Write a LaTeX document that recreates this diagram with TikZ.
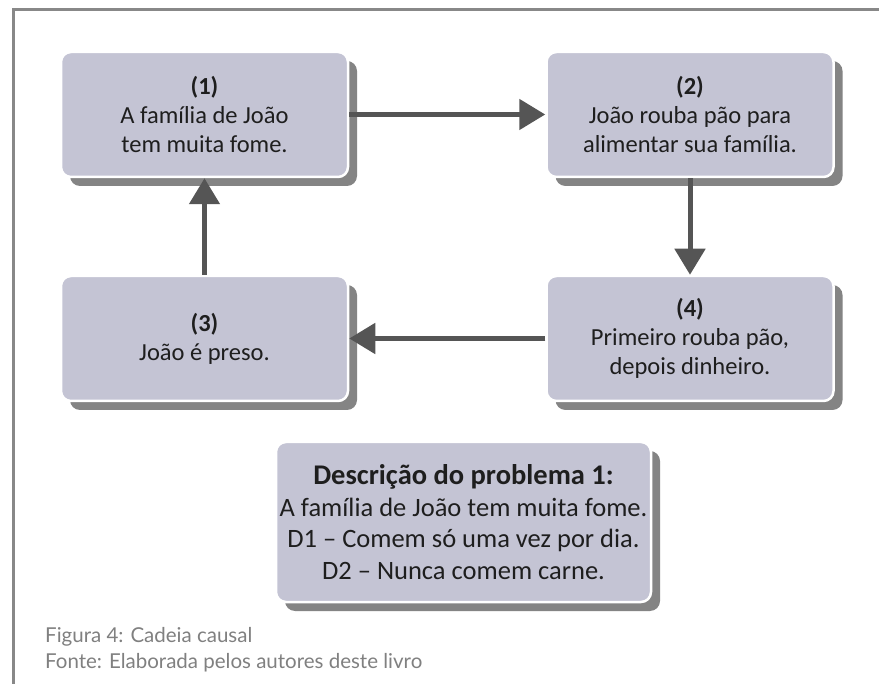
\documentclass[tikz,border=0pt]{standalone}
\usepackage{fontspec}
\setmainfont{Carlito}
\newfontfamily\capfont{Lato}
\usetikzlibrary{shadows,arrows.meta}
\definecolor{boxfill}{RGB}{196,196,212}
\definecolor{shadowcol}{RGB}{132,132,132}
\definecolor{arrowcol}{RGB}{85,85,85}
\definecolor{framecol}{RGB}{136,136,136}
\definecolor{captioncol}{RGB}{128,128,128}
\definecolor{textcol}{RGB}{30,30,30}
\tikzset{
  causebox/.style={rectangle, rounded corners=10pt, fill=boxfill, draw=white,
    line width=2.5pt, minimum width=287pt, minimum height=125pt, align=center,
    text=textcol, inner sep=0pt,
    font=\fontsize{24.5}{29}\selectfont,
    drop shadow={shadow xshift=9pt, shadow yshift=-9pt, fill=shadowcol, opacity=1}},
  flow/.style={draw=arrowcol, line width=5pt,
    -{Triangle[length=26pt,width=30pt]}},
  caption/.style={anchor=base west, inner sep=0pt, text=captioncol,
    font=\capfont\fontsize{20.5}{24}\selectfont}
}
\begin{document}
\begin{tikzpicture}[x=1pt,y=-1pt]
\useasboundingbox (0,0) rectangle (879,684);
\fill[white] (0,0) rectangle (879,684);
\draw[framecol, line width=3pt] (13,684) -- (13,9.5) -- (879,9.5);

\node[causebox] (b1) at (204.5,114.5) {\textbf{(1)}\\A família de João\\tem muita fome.};
\node[causebox] (b2) at (690,114.5) {\textbf{(2)}\\João rouba pão para\\alimentar sua família.};
\node[causebox] (b3) at (204.5,338.5) {\textbf{(3)}\\João é preso.};
\node[causebox] (b4) at (690,338.5) {\textbf{(4)}\\Primeiro rouba pão,\\depois dinheiro.};
\node[causebox, minimum width=375pt, minimum height=160pt,
  font=\fontsize{26.5}{31.5}\selectfont] (d) at (463.5,522)
  {{\fontsize{28.5}{31.5}\selectfont\textbf{Descrição do problema 1:}}\\A família de João tem muita fome.\\D1 – Comem só uma vez por dia.\\D2 – Nunca comem carne.};

\draw[flow] (b1) -- (b2);
\draw[flow] (b2) -- (b4);
\draw[flow] (b4) -- (b3);
\draw[flow] (b3) -- (b1);

\node[caption] (c1) at (45,642) {Figura 4: Cadeia causal};
\node[caption] (c2) at (45,668) {Fonte: Elaborada pelos autores deste livro};
\end{tikzpicture}
\end{document}
